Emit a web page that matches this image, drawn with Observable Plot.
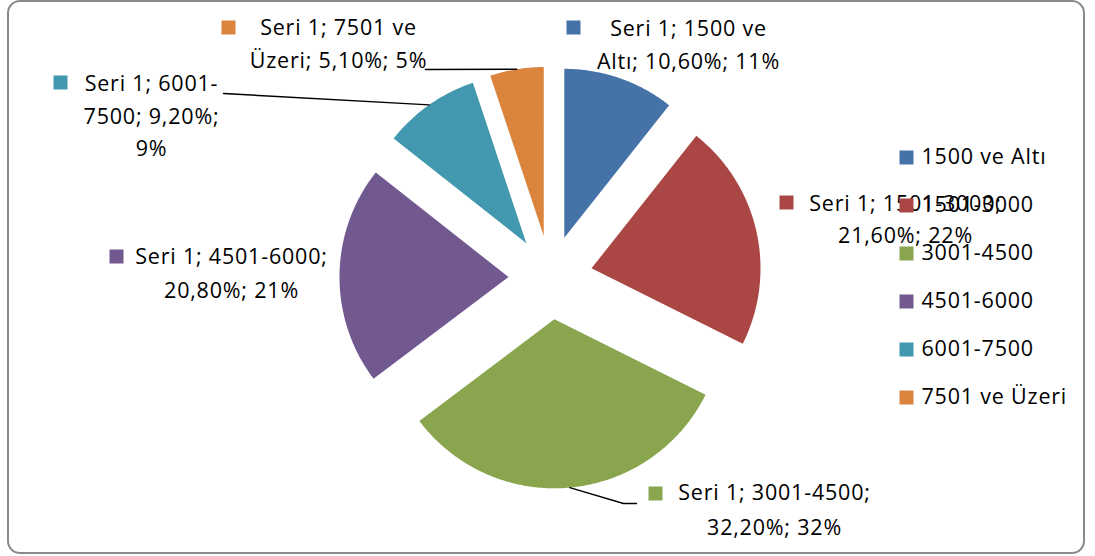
<!DOCTYPE html>
<html>
<head>
<meta charset="utf-8">
<script src="https://cdn.jsdelivr.net/npm/d3@7"></script>
<script src="https://cdn.jsdelivr.net/npm/@observablehq/plot@0.6"></script>
<style>
  html, body { margin: 0; padding: 0; background: #fff; }
  #wrap { position: relative; width: 1095px; height: 556px; overflow: hidden; }
  #border { position: absolute; left: 7px; top: 0px; width: 1074px; height: 550px;
            border: 2px solid #8a8a8a; border-radius: 13px; box-sizing: content-box; pointer-events: none; }
  #chart { position: absolute; left: 0; top: 0; }
</style>
</head>
<body>
<div id="wrap"><div id="chart"></div><div id="border"></div></div>
<script>
// ---- data ----
const seriesName = "Seri 1";
const categories = ["1500 ve Altı", "1501-3000", "3001-4500", "4501-6000", "6001-7500", "7501 ve Üzeri"];
const values = [10.6, 21.6, 32.2, 20.8, 9.2, 5.1];
const colors = ["#4572A7", "#AA4643", "#89A54E", "#71588F", "#4198AF", "#DB843D"];

// ---- layout (positions / styles) ----
const W = 1095, H = 556;
const pie = {cx: 550, cy: 277, r: 169, explode: 42};
const font = {family: "Open Sans", size: 21.5, spacing: "0.8px"};
const labelLayout = {
  "1500 ve Altı":  {cx: 688, ys: [29, 62], breaks: [15], sq: [573, 27]},
  "1501-3000":     {cx: 905, ys: [204, 236], breaks: [18], sq: [786, 202]},
  "3001-4500":     {cx: 774, ys: [493, 528], breaks: [18], sq: [655, 493], leader: [[623, 503], [636, 503]]},
  "4501-6000":     {cx: 231, ys: [257, 291], breaks: [18], sq: [116, 256]},
  "6001-7500":     {cx: 151, ys: [84, 117, 149], breaks: [13, 25], sq: [60, 82], leader: [[223, 93]]},
  "7501 ve Üzeri": {cx: 338, ys: [28, 61], breaks: [15], sq: [228, 27], leader: [[425, 69]]}
};
const legendLayout = {xSq: 906, xText: 921, y0: 157, step: 48};

// ---- derived geometry ----
const total = d3.sum(values);
const deg = Math.PI / 180;
const dir = a => [Math.sin(a), -Math.cos(a)];
let cum = 0;
const slices = categories.map((cat, i) => {
  const a0 = cum / total * 2 * Math.PI;
  cum += values[i];
  const a1 = cum / total * 2 * Math.PI;
  const mid = (a0 + a1) / 2;
  const [dx, dy] = dir(mid);
  const ax = pie.cx + pie.explode * dx, ay = pie.cy + pie.explode * dy;
  return {cat, value: values[i], a0, a1, mid, ax, ay};
});

const slicePts = [];
for (const s of slices) {
  slicePts.push({cat: s.cat, x: s.ax, y: s.ay});
  const n = Math.max(2, Math.ceil((s.a1 - s.a0) / (0.5 * deg)));
  for (let k = 0; k <= n; k++) {
    const a = s.a0 + (s.a1 - s.a0) * k / n;
    const [dx, dy] = dir(a);
    slicePts.push({cat: s.cat, x: s.ax + pie.r * dx, y: s.ay + pie.r * dy});
  }
  slicePts.push({cat: s.cat, x: s.ax, y: s.ay});
}

const fmtPct = v => v.toFixed(2).replace(".", ",") + "%";
const labelLines = [], labelSquares = [], leaderPts = [];
for (const s of slices) {
  const L = labelLayout[s.cat];
  const full = `${seriesName}; ${s.cat}; ${fmtPct(s.value)}; ${Math.round(s.value / total * 100)}%`;
  const cuts = [0, ...L.breaks, full.length];
  for (let j = 0; j < cuts.length - 1; j++) {
    labelLines.push({cat: s.cat, text: full.slice(cuts[j], cuts[j + 1]).trim(), x: L.cx, y: L.ys[j]});
  }
  labelSquares.push({cat: s.cat, x: L.sq[0], y: L.sq[1]});
  if (L.leader) {
    const [dx, dy] = dir(s.mid);
    leaderPts.push({cat: s.cat, x: s.ax + pie.r * dx, y: s.ay + pie.r * dy});
    for (const p of L.leader) leaderPts.push({cat: s.cat, x: p[0], y: p[1]});
  }
}

const legendItems = categories.map((cat, i) => ({cat, y: legendLayout.y0 + i * legendLayout.step}));

const sqR = 14 / Math.sqrt(Math.PI);

const chart = Plot.plot({
  width: W, height: H,
  margin: 0,
  x: {domain: [0, W], range: [0, W], axis: null},
  y: {domain: [0, H], range: [0, H], axis: null},
  color: {domain: categories, range: colors},
  style: {fontFamily: font.family, fontSize: font.size + "px", letterSpacing: font.spacing, background: "transparent", color: "#000"},
  marks: [
    Plot.line(slicePts, {x: "x", y: "y", z: "cat", fill: "cat", stroke: "none", curve: "linear"}),
    Plot.line(leaderPts, {x: "x", y: "y", z: "cat", stroke: "#000", strokeWidth: 1.4}),
    Plot.dot(labelSquares, {x: "x", y: "y", fill: "cat", symbol: "square", r: sqR}),
    Plot.text(labelLines, {x: "x", y: "y", text: "text", fill: "#000", fontSize: font.size, textAnchor: "middle", lineAnchor: "middle"}),
    Plot.dot(legendItems, {x: () => legendLayout.xSq, y: "y", fill: "cat", symbol: "square", r: sqR}),
    Plot.text(legendItems, {x: () => legendLayout.xText, y: "y", text: "cat", fill: "#000", fontSize: font.size, textAnchor: "start", lineAnchor: "middle"})
  ]
});
document.getElementById("chart").appendChild(chart);
</script>
</body>
</html>
